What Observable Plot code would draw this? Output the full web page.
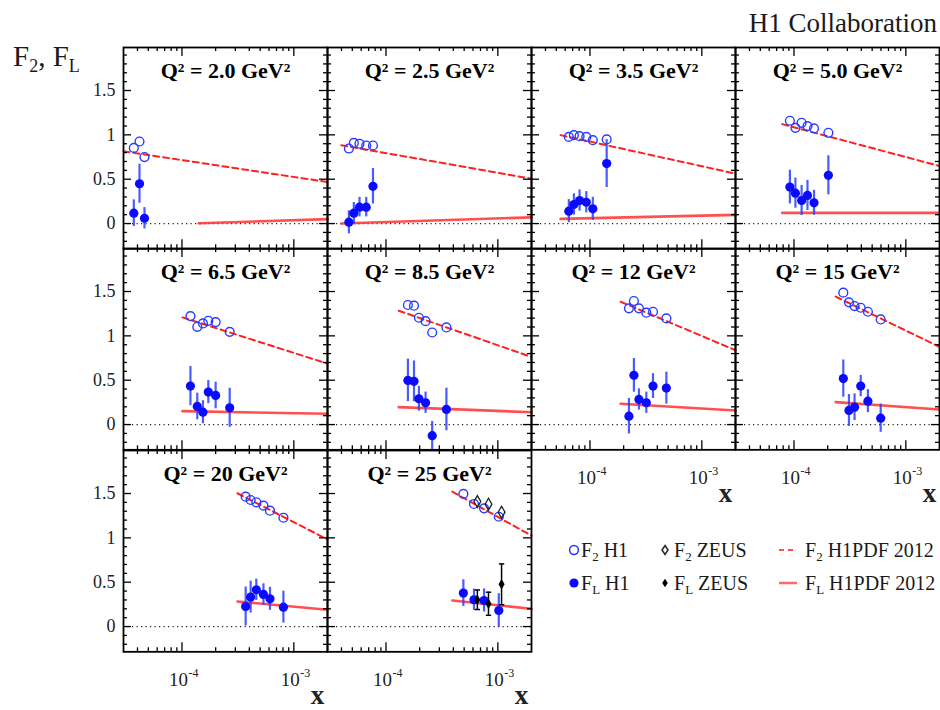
<!DOCTYPE html>
<html>
<head>
<meta charset="utf-8">
<script src="https://cdn.jsdelivr.net/npm/d3@7"></script>
<script src="https://cdn.jsdelivr.net/npm/@observablehq/plot@0.6"></script>
<style>
  body { margin: 0; background: #fff; }
  #chart { position: relative; width: 940px; height: 710px; overflow: hidden;
           font-family: "Liberation Serif", "Times New Roman", serif; }
</style>
</head>
<body>
<div id="chart"></div>
<script>
// ---- Q^2 bins (one panel each) ----
const Q2_LABELS = ["2.0", "2.5", "3.5", "5.0", "6.5", "8.5", "12", "15", "20", "25"];

// ---- H1 measurements per Q^2 bin ----
const H1_X = [
  [3.71e-5, 4.17e-5, 4.62e-5],
  [4.66e-5, 5.16e-5, 5.8e-5, 6.66e-5, 7.65e-5],
  [6.47e-5, 7.18e-5, 8.07e-5, 9.27e-5, 1.06e-4, 1.41e-4],
  [9.19e-5, 1.03e-4, 1.17e-4, 1.32e-4, 1.51e-4, 2.03e-4],
  [1.19e-4, 1.37e-4, 1.54e-4, 1.72e-4, 2.0e-4, 2.67e-4],
  [1.57e-4, 1.78e-4, 1.97e-4, 2.26e-4, 2.59e-4, 3.47e-4],
  [2.23e-4, 2.47e-4, 2.74e-4, 3.19e-4, 3.66e-4, 4.82e-4],
  [2.76e-4, 3.1e-4, 3.48e-4, 3.95e-4, 4.58e-4, 5.96e-4],
  [3.71e-4, 4.11e-4, 4.62e-4, 5.35e-4, 6.12e-4, 8.07e-4],
  [4.92e-4, 6.12e-4, 7.53e-4, 1.02e-3]
];
const H1_F2 = [
  [0.853, 0.925, 0.75],
  [0.846, 0.909, 0.90, 0.88, 0.88],
  [0.977, 0.997, 0.985, 0.977, 0.94, 0.948],
  [1.159, 1.079, 1.136, 1.099, 1.072, 1.023],
  [1.223, 1.102, 1.14, 1.17, 1.155, 1.045],
  [1.348, 1.34, 1.204, 1.166, 1.038, 1.095],
  [1.31, 1.393, 1.31, 1.261, 1.272, 1.197],
  [1.487, 1.378, 1.336, 1.317, 1.272, 1.185],
  [1.464, 1.427, 1.401, 1.363, 1.306, 1.227],
  [1.495, 1.382, 1.333, 1.238]
];
const H1_FL = [
  [0.117, 0.449, 0.06],
  [0.015, 0.117, 0.185, 0.185, 0.42],
  [0.14, 0.215, 0.26, 0.24, 0.166, 0.676],
  [0.411, 0.343, 0.26, 0.317, 0.234, 0.544],
  [0.434, 0.204, 0.139, 0.366, 0.328, 0.189],
  [0.498, 0.487, 0.291, 0.246, -0.125, 0.17],
  [0.094, 0.555, 0.283, 0.246, 0.434, 0.411],
  [0.518, 0.159, 0.196, 0.434, 0.264, 0.072],
  [0.226, 0.332, 0.415, 0.362, 0.313, 0.219],
  [0.377, 0.302, 0.294, 0.181]
];
const H1_FL_ERR = [
  [0.15, 0.22, 0.12],
  [0.13, 0.12, 0.11, 0.11, 0.2],
  [0.13, 0.12, 0.12, 0.12, 0.13, 0.27],
  [0.19, 0.17, 0.17, 0.17, 0.14, 0.22],
  [0.22, 0.15, 0.13, 0.13, 0.15, 0.22],
  [0.24, 0.23, 0.14, 0.12, 0.16, 0.24],
  [0.2, 0.19, 0.12, 0.12, 0.14, 0.18],
  [0.21, 0.18, 0.15, 0.12, 0.13, 0.16],
  [0.22, 0.18, 0.12, 0.12, 0.13, 0.18],
  [0.15, 0.12, 0.13, 0.19]
];

// ---- ZEUS measurements (Q^2 = 25 GeV^2 bin only) ----
const ZEUS_PANEL = 9;
const ZEUS_X = [6.56e-4, 8.25e-4, 1.08e-3];
const ZEUS_F2 = [1.41, 1.38, 1.29];
const ZEUS_FL = [0.302, 0.257, 0.476];
const ZEUS_FL_ERR = [0.11, 0.13, 0.23];

// ---- H1PDF 2012 predictions: [x start, x end] and values at both ends ----
const PDF_F2_X = [[3e-5, 2e-3], [3.98e-5, 2e-3], [5.46e-5, 2e-3], [7.85e-5, 2e-3], [1.01e-4, 2e-3],
                  [1.30e-4, 2e-3], [1.88e-4, 2e-3], [2.36e-4, 2e-3], [3.13e-4, 2e-3], [3.92e-4, 2e-3]];
const PDF_F2 = [[0.815, 0.468], [0.883, 0.506], [0.997, 0.563], [1.121, 0.649], [1.208, 0.687],
                [1.283, 0.762], [1.385, 0.838], [1.442, 0.876], [1.503, 0.982], [1.521, 1.025]];
const PDF_FL_X = [[1.41e-4, 2e-3], [3.98e-5, 2e-3], [5.46e-5, 2e-3], [7.85e-5, 2e-3], [1.01e-4, 2e-3],
                  [1.30e-4, 2e-3], [1.88e-4, 2e-3], [2.36e-4, 2e-3], [3.13e-4, 2e-3], [3.92e-4, 2e-3]];
const PDF_FL = [[0.003, 0.05], [0.0, 0.07], [0.053, 0.098], [0.12, 0.12], [0.151, 0.121],
                [0.196, 0.139], [0.234, 0.159], [0.253, 0.17], [0.283, 0.189], [0.294, 0.2]];

// ---- axes ----
const X_DOMAIN = [3e-5, 2e-3];
const Y_DOMAIN = [-0.285, 1.985];
const Y_MAJOR = [0, 0.5, 1, 1.5];
const Y_LABELS = ["0", "0.5", "1", "1.5"];
const Y_MINOR = [-0.2, -0.1, 0.1, 0.2, 0.3, 0.4, 0.6, 0.7, 0.8, 0.9, 1.1, 1.2, 1.3, 1.4, 1.6, 1.7, 1.8, 1.9];
const X_MAJOR = [1e-4, 1e-3];
const X_EXPONENTS = ["-4", "-3"];
const X_MINOR = [4e-5, 5e-5, 6e-5, 7e-5, 8e-5, 9e-5, 2e-4, 3e-4, 4e-4, 5e-4, 6e-4, 7e-4, 8e-4, 9e-4];

// ---- layout ----
const W = 204, H = 201.33;           // frame size of one panel
const ML = 50, MR = 12, MT = 12, MB = 64;
const LEFT0 = 123, TOP0 = 47;
const SERIF = "'Liberation Serif', 'Times New Roman', serif";
const BLUE = "#0a0aff";
const RED = "#ff2020";

// short horizontal bar used as error-bar cap
const capSymbol = {
  draw(ctx, size) {
    const w = Math.sqrt(size);
    ctx.moveTo(-w / 2, 0);
    ctx.lineTo(w / 2, 0);
  }
};

const chart = document.getElementById("chart");

Q2_LABELS.forEach((q, i) => {
  const row = Math.floor(i / 4), col = i % 4;
  const showY = col === 0;
  const showX = row === 2 || (row === 1 && col >= 2);

  const h1 = H1_X[i].map((x, j) => ({x, f2: H1_F2[i][j], fl: H1_FL[i][j], err: H1_FL_ERR[i][j]}));
  const f2Curve = PDF_F2_X[i].map((x, j) => ({x, y: PDF_F2[i][j]}));
  const flCurve = PDF_FL_X[i].map((x, j) => ({x, y: PDF_FL[i][j]}));
  const zeus = i === ZEUS_PANEL
    ? ZEUS_X.map((x, j) => ({x, f2: ZEUS_F2[j], fl: ZEUS_FL[j], err: ZEUS_FL_ERR[j]}))
    : [];
  const xTicks = X_MAJOR.map((v, j) => ({v, exp: X_EXPONENTS[j]}));
  const yTicks = Y_MAJOR.map((v, j) => ({v, label: Y_LABELS[j]}));

  const tickStyle = {stroke: "black", strokeWidth: 1.3};

  const marks = [
    // zero line
    Plot.ruleY([0], {stroke: "#222", strokeWidth: 1.2, strokeDasharray: "1.2,3.3"}),
    // H1PDF 2012 predictions
    Plot.line(flCurve, {x: "x", y: "y", stroke: "#ff3030", strokeWidth: 2.6, strokeOpacity: 0.85}),
    Plot.line(f2Curve, {x: "x", y: "y", stroke: RED, strokeWidth: 2, strokeDasharray: "6,4"}),
    // H1 F_L with uncertainties
    Plot.ruleX(h1, {x: "x", y1: d => d.fl - d.err, y2: d => d.fl + d.err, stroke: "#2a40ff", strokeWidth: 2.2, strokeOpacity: 0.85}),
    Plot.dot(h1, {x: "x", y: "fl", r: 4.6, fill: BLUE}),
    // H1 F2
    Plot.dot(h1, {x: "x", y: "f2", r: 4.4, stroke: "#2a3cff", strokeWidth: 1.4, fill: "none"}),
    // ZEUS points
    Plot.ruleX(zeus, {x: "x", y1: d => d.fl - d.err, y2: d => d.fl + d.err, stroke: "black", strokeWidth: 1.5}),
    Plot.dot(zeus, {x: "x", y: d => d.fl - d.err, symbol: capSymbol, r: 3, stroke: "black", strokeWidth: 1.5}),
    Plot.dot(zeus, {x: "x", y: d => d.fl + d.err, symbol: capSymbol, r: 3, stroke: "black", strokeWidth: 1.5}),
    Plot.dot(zeus, {x: "x", y: "fl", symbol: "diamond", r: 3.2, fill: "black"}),
    Plot.dot(zeus, {x: "x", y: "f2", symbol: "diamond", r: 3.6, stroke: "#222", strokeWidth: 1.3, fill: "none"}),
    // inward ticks on all four sides
    Plot.tickY(Y_MAJOR, {y: d => d, insetRight: W - 8, ...tickStyle}),
    Plot.tickY(Y_MAJOR, {y: d => d, insetLeft: W - 8, ...tickStyle}),
    Plot.tickY(Y_MINOR, {y: d => d, insetRight: W - 4, ...tickStyle}),
    Plot.tickY(Y_MINOR, {y: d => d, insetLeft: W - 4, ...tickStyle}),
    Plot.tickX(X_MAJOR, {x: d => d, insetTop: H - 9, ...tickStyle}),
    Plot.tickX(X_MAJOR, {x: d => d, insetBottom: H - 9, ...tickStyle}),
    Plot.tickX(X_MINOR, {x: d => d, insetTop: H - 4, ...tickStyle}),
    Plot.tickX(X_MINOR, {x: d => d, insetBottom: H - 4, ...tickStyle}),
    Plot.frame({stroke: "black", strokeWidth: 1.8}),
    // panel title
    Plot.text([`Q² = ${q} GeV²`], {
      frameAnchor: "top", text: d => d, dy: 23.5, lineAnchor: "middle",
      fontSize: 22, fontWeight: "bold", fill: "black", fontFamily: SERIF
    })
  ];

  if (showY) {
    marks.push(Plot.text(yTicks, {
      y: "v", text: "label", frameAnchor: "left", textAnchor: "end", dx: -8,
      fontSize: 18, fill: "#222", fontFamily: SERIF
    }));
  }
  if (showX) {
    marks.push(
      Plot.text(xTicks, {
        x: "v", text: () => "10", frameAnchor: "bottom", textAnchor: "end", dx: 6, dy: 28,
        lineAnchor: "middle", fontSize: 19, fill: "#222", fontFamily: SERIF
      }),
      Plot.text(xTicks, {
        x: "v", text: "exp", frameAnchor: "bottom", textAnchor: "start", dx: 6.5, dy: 21,
        lineAnchor: "middle", fontSize: 12, fill: "#222", fontFamily: SERIF
      }),
      Plot.text(["x"], {
        frameAnchor: "bottom-right", text: d => d, textAnchor: "middle", dx: -10, dy: 44,
        lineAnchor: "middle", fontSize: 27, fontWeight: "bold", fill: "#222", fontFamily: SERIF
      })
    );
  }

  const svg = Plot.plot({
    width: W + ML + MR,
    height: H + MT + MB,
    marginLeft: ML, marginRight: MR, marginTop: MT, marginBottom: MB,
    x: {type: "log", domain: X_DOMAIN, axis: null},
    y: {domain: Y_DOMAIN, axis: null},
    style: {background: "transparent", overflow: "visible", fontFamily: SERIF},
    marks
  });
  svg.style.position = "absolute";
  svg.style.left = (LEFT0 + col * W - ML) + "px";
  svg.style.top = (TOP0 + row * H - MT) + "px";
  svg.style.maxWidth = "none";
  chart.appendChild(svg);
});

// ---- overall labels and legend ----
const over = d3.select(chart).append("svg")
  .attr("width", 940).attr("height", 710)
  .style("position", "absolute").style("left", "0px").style("top", "0px")
  .style("pointer-events", "none")
  .attr("font-family", SERIF).attr("fill", "#1a1a1a");

const yTitle = over.append("text").attr("x", 13).attr("y", 66).attr("font-size", 29);
yTitle.append("tspan").text("F");
yTitle.append("tspan").attr("font-size", 18).attr("dy", 6).text("2");
yTitle.append("tspan").attr("dy", -6).text(", F");
yTitle.append("tspan").attr("font-size", 18).attr("dy", 6).text("L");

over.append("text").attr("x", 937).attr("y", 32).attr("text-anchor", "end")
  .attr("font-size", 27).text("H1 Collaboration");

const LEGEND_ROWS = [550, 583];
function legendLabel(x, y, sub, rest) {
  const t = over.append("text").attr("x", x).attr("y", y + 7).attr("font-size", 20);
  t.append("tspan").text("F");
  t.append("tspan").attr("font-size", 13).attr("dy", 4).text(sub);
  t.append("tspan").attr("dy", -4).text(" " + rest);
}
// H1 data
over.append("circle").attr("cx", 574).attr("cy", LEGEND_ROWS[0]).attr("r", 4.4)
  .attr("fill", "none").attr("stroke", "#2030ff").attr("stroke-width", 1.5);
over.append("circle").attr("cx", 574).attr("cy", LEGEND_ROWS[1]).attr("r", 4.6).attr("fill", BLUE);
legendLabel(581, LEGEND_ROWS[0], "2", "H1");
legendLabel(581, LEGEND_ROWS[1], "L", "H1");
// ZEUS data
const dia = (cx, cy, w, h) => `M${cx},${cy - h}L${cx + w},${cy}L${cx},${cy + h}L${cx - w},${cy}Z`;
over.append("path").attr("d", dia(665, LEGEND_ROWS[0], 3, 4.5))
  .attr("fill", "none").attr("stroke", "#222").attr("stroke-width", 1.5);
over.append("path").attr("d", dia(665, LEGEND_ROWS[1], 2.8, 4.2)).attr("fill", "black");
legendLabel(674, LEGEND_ROWS[0], "2", "ZEUS");
legendLabel(674, LEGEND_ROWS[1], "L", "ZEUS");
// H1PDF 2012
over.append("line").attr("x1", 779).attr("x2", 797).attr("y1", LEGEND_ROWS[0]).attr("y2", LEGEND_ROWS[0])
  .attr("stroke", RED).attr("stroke-width", 1.8).attr("stroke-dasharray", "5,4").attr("stroke-opacity", 0.8);
over.append("line").attr("x1", 779).attr("x2", 797).attr("y1", LEGEND_ROWS[1]).attr("y2", LEGEND_ROWS[1])
  .attr("stroke", "#ff3535").attr("stroke-width", 2.5).attr("stroke-opacity", 0.75);
legendLabel(805, LEGEND_ROWS[0], "2", "H1PDF 2012");
legendLabel(805, LEGEND_ROWS[1], "L", "H1PDF 2012");
</script>
</body>
</html>
